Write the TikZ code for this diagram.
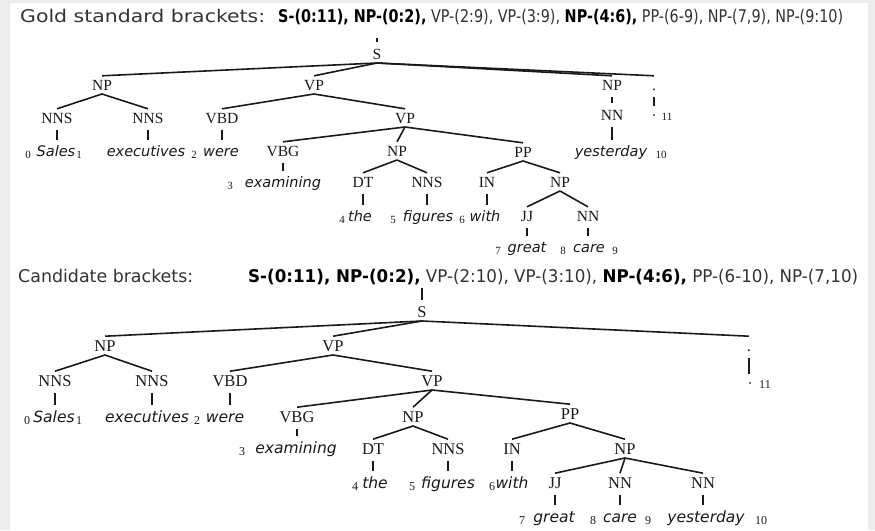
\documentclass[tikz,border=0pt]{standalone}
\usepackage{fontspec}
\usepackage{graphicx}
\setmainfont{Liberation Serif}
\newfontfamily\sansfam{DejaVu Sans}
\definecolor{bordergrey}{HTML}{ECECEC}
\definecolor{hdrgrey}{HTML}{333333}
\definecolor{inkc}{HTML}{1A1A1A}
\tikzset{
  labA/.style={font=\fontsize{15.5}{17}\selectfont, text=inkc, text height=10.2pt, text depth=0pt, inner sep=0pt, outer ysep=4pt, anchor=base},
  labB/.style={font=\fontsize{16.5}{18}\selectfont, text=inkc, text height=10.8pt, text depth=0pt, inner sep=0pt, outer ysep=4pt, anchor=base},
  wordA/.style={font=\sansfam\fontsize{14.5}{16}\selectfont\itshape, text=inkc, text height=10pt, text depth=0pt, inner sep=0pt, outer ysep=4pt, anchor=base},
  wordB/.style={font=\sansfam\fontsize{15.5}{17}\selectfont\itshape, text=inkc, text height=10.5pt, text depth=0pt, inner sep=0pt, outer ysep=4pt, anchor=base},
  idxA/.style={font=\fontsize{11}{13}\selectfont, text=inkc, inner sep=0pt, anchor=base},
  idxB/.style={font=\fontsize{12}{14}\selectfont, text=inkc, inner sep=0pt, anchor=base},
  dotw/.style={font=\fontsize{15}{17}\selectfont, text=inkc, text height=8pt, text depth=0pt, inner sep=0pt, outer ysep=4pt, anchor=base},
  hdr/.style={font=\sansfam\fontsize{17.5}{20}\selectfont, text=hdrgrey, inner sep=0pt, anchor=base west},
  br/.style={line width=1.6pt, draw=inkc},
  tk/.style={line width=2pt, draw=inkc, shorten <=2.5pt, shorten >=2.5pt}
}
\begin{document}
\begin{tikzpicture}[x=1pt,y=-1pt]
\useasboundingbox (0,0) rectangle (875,530);
\fill[bordergrey] (0,0) rectangle (875,530);
\fill[white] (10,3) rectangle (868,530);

% ---------- headers ----------
\node[hdr] (h1a) at (20,23) {\resizebox{245pt}{\height}{Gold standard brackets:}};
\node[hdr] (h1b) at (278,23) {\resizebox{565pt}{\height}{\textcolor{black}{\textbf{S-(0:11), NP-(0:2),}} VP-(2:9), VP-(3:9), \textcolor{black}{\textbf{NP-(4:6),}} PP-(6-9), NP-(7,9), NP-(9:10)}};
\node[hdr] (h2a) at (18,282) {\resizebox{175pt}{\height}{Candidate brackets:}};
\node[hdr] (h2b) at (248,282) {\resizebox{610pt}{\height}{\textcolor{black}{\textbf{S-(0:11), NP-(0:2),}} VP-(2:10), VP-(3:10), \textcolor{black}{\textbf{NP-(4:6),}} PP-(6-10), NP-(7,10)}};

% ---------- gold tree ----------
\coordinate (S1top) at (377,35);
\node[labA] (S1) at (377,59) {S};
\node[labA] (NPa) at (102,90) {NP};
\node[labA] (VPa) at (314,90) {VP};
\node[labA] (NPy) at (612,90) {NP};
\node[labA] (dotA) at (654,90) {.};
\node[labA] (NNSa) at (57,123) {NNS};
\node[labA] (NNSb) at (148,123) {NNS};
\node[labA] (VBDa) at (222,123) {VBD};
\node[labA] (VPb) at (405,123) {VP};
\node[labA] (NNy) at (612,120) {NN};
\node[dotw] (dwA) at (654,120) {\textperiodcentered};
\node[idxA] (iA11) at (667,120) {11};
\node[wordA] (wSalesA) at (56,156) {Sales};
\node[wordA] (wExecA) at (146,156) {executives};
\node[wordA] (wWereA) at (221,156) {were};
\node[labA] (VBGa) at (283,156) {VBG};
\node[labA] (NPc) at (397,156) {NP};
\node[labA] (PPa) at (523,157) {PP};
\node[wordA] (wYestA) at (611,156) {yesterday};
\node[idxA] (iA0) at (28,158) {0};
\node[idxA] (iA1) at (79,158) {1};
\node[idxA] (iA2) at (194,158) {2};
\node[idxA] (iA10) at (661,158) {10};
\node[wordA] (wExamA) at (283,187) {examining};
\node[idxA] (iA3) at (230,189) {3};
\node[labA] (DTa) at (363,187) {DT};
\node[labA] (NNSc) at (427,187) {NNS};
\node[labA] (INa) at (487,187) {IN};
\node[labA] (NPd) at (560,187) {NP};
\node[wordA] (wTheA) at (360,221) {the};
\node[wordA] (wFigA) at (428,221) {figures};
\node[wordA] (wWithA) at (485,221) {with};
\node[labA] (JJa) at (527,221) {JJ};
\node[labA] (NNa) at (588,221) {NN};
\node[idxA] (iA4) at (342,223) {4};
\node[idxA] (iA5) at (393,223) {5};
\node[idxA] (iA6) at (462,223) {6};
\node[wordA] (wGreatA) at (527,252) {great};
\node[wordA] (wCareA) at (589,252) {care};
\node[idxA] (iA7) at (498,254) {7};
\node[idxA] (iA8) at (563,254) {8};
\node[idxA] (iA9) at (615,254) {9};

\draw[tk] (S1top) -- (S1.north);
\foreach \c in {NPa,VPa,NPy,dotA} \draw[br] (S1.south) -- (\c.north);
\foreach \c in {NNSa,NNSb} \draw[br] (NPa.south) -- (\c.north);
\foreach \c in {VBDa,VPb} \draw[br] (VPa.south) -- (\c.north);
\foreach \c in {VBGa,NPc,PPa} \draw[br] (VPb.south) -- (\c.north);
\foreach \c in {DTa,NNSc} \draw[br] (NPc.south) -- (\c.north);
\foreach \c in {INa,NPd} \draw[br] (PPa.south) -- (\c.north);
\foreach \c in {JJa,NNa} \draw[br] (NPd.south) -- (\c.north);
\draw[tk] (NPy.south) -- (NPy.south |- NNy.north);
\draw[tk] (dotA.south) -- (dotA.south |- dwA.north);
\draw[tk] (NNSa.south) -- (NNSa.south |- wSalesA.north);
\draw[tk] (NNSb.south) -- (NNSb.south |- wExecA.north);
\draw[tk] (VBDa.south) -- (VBDa.south |- wWereA.north);
\draw[tk] (NNy.south) -- (NNy.south |- wYestA.north);
\draw[tk] (VBGa.south) -- (VBGa.south |- wExamA.north);
\draw[tk] (DTa.south) -- (DTa.south |- wTheA.north);
\draw[tk] (NNSc.south) -- (NNSc.south |- wFigA.north);
\draw[tk] (INa.south) -- (INa.south |- wWithA.north);
\draw[tk] (JJa.south) -- (JJa.south |- wGreatA.north);
\draw[tk] (NNa.south) -- (NNa.south |- wCareA.north);

% ---------- candidate tree ----------
\coordinate (S2top) at (422,285);
\node[labB] (S2) at (422,317) {S};
\node[labB] (NPe) at (105,351) {NP};
\node[labB] (VPe) at (333,351) {VP};
\node[labB] (dotB) at (749,351) {.};
\node[labB] (NNSd) at (55,386) {NNS};
\node[labB] (NNSe) at (152,386) {NNS};
\node[labB] (VBDb) at (230,386) {VBD};
\node[labB] (VPf) at (432,386) {VP};
\node[dotw] (dwB) at (750,388) {\textperiodcentered};
\node[idxB] (iB11) at (765,388) {11};
\node[wordB] (wSalesB) at (54,422) {Sales};
\node[wordB] (wExecB) at (147,422) {executives};
\node[wordB] (wWereB) at (225,422) {were};
\node[labB] (VBGb) at (297,422) {VBG};
\node[labB] (NPg) at (413,422) {NP};
\node[labB] (PPb) at (570,419) {PP};
\node[idxB] (iB0) at (27,424) {0};
\node[idxB] (iB1) at (79,424) {1};
\node[idxB] (iB2) at (197,424) {2};
\node[wordB] (wExamB) at (296,453) {examining};
\node[idxB] (iB3) at (242,455) {3};
\node[labB] (DTb) at (373,454) {DT};
\node[labB] (NNSf) at (448,454) {NNS};
\node[labB] (INb) at (512,454) {IN};
\node[labB] (NPh) at (625,454) {NP};
\node[wordB] (wTheB) at (375,488) {the};
\node[wordB] (wFigB) at (448,488) {figures};
\node[wordB] (wWithB) at (512,488) {with};
\node[labB] (JJb) at (555,488) {JJ};
\node[labB] (NNb) at (620,488) {NN};
\node[labB] (NNc) at (703,488) {NN};
\node[idxB] (iB4) at (355,490) {4};
\node[idxB] (iB5) at (412,490) {5};
\node[idxB] (iB6) at (492,490) {6};
\node[wordB] (wGreatB) at (554,522) {great};
\node[wordB] (wCareB) at (620,522) {care};
\node[wordB] (wYestB) at (706,522) {yesterday};
\node[idxB] (iB7) at (522,524) {7};
\node[idxB] (iB8) at (593,524) {8};
\node[idxB] (iB9) at (648,524) {9};
\node[idxB] (iB10) at (761,524) {10};

\draw[tk] (S2top) -- (S2.north);
\foreach \c in {NPe,VPe,dotB} \draw[br] (S2.south) -- (\c.north);
\foreach \c in {NNSd,NNSe} \draw[br] (NPe.south) -- (\c.north);
\foreach \c in {VBDb,VPf} \draw[br] (VPe.south) -- (\c.north);
\foreach \c in {VBGb,NPg,PPb} \draw[br] (VPf.south) -- (\c.north);
\foreach \c in {DTb,NNSf} \draw[br] (NPg.south) -- (\c.north);
\foreach \c in {INb,NPh} \draw[br] (PPb.south) -- (\c.north);
\foreach \c in {JJb,NNb,NNc} \draw[br] (NPh.south) -- (\c.north);
\draw[tk] (dotB.south) -- (dotB.south |- dwB.north);
\draw[tk] (NNSd.south) -- (NNSd.south |- wSalesB.north);
\draw[tk] (NNSe.south) -- (NNSe.south |- wExecB.north);
\draw[tk] (VBDb.south) -- (VBDb.south |- wWereB.north);
\draw[tk] (VBGb.south) -- (VBGb.south |- wExamB.north);
\draw[tk] (DTb.south) -- (DTb.south |- wTheB.north);
\draw[tk] (NNSf.south) -- (NNSf.south |- wFigB.north);
\draw[tk] (INb.south) -- (INb.south |- wWithB.north);
\draw[tk] (JJb.south) -- (JJb.south |- wGreatB.north);
\draw[tk] (NNb.south) -- (NNb.south |- wCareB.north);
\draw[tk] (NNc.south) -- (NNc.south |- wYestB.north);
\end{tikzpicture}
\end{document}
